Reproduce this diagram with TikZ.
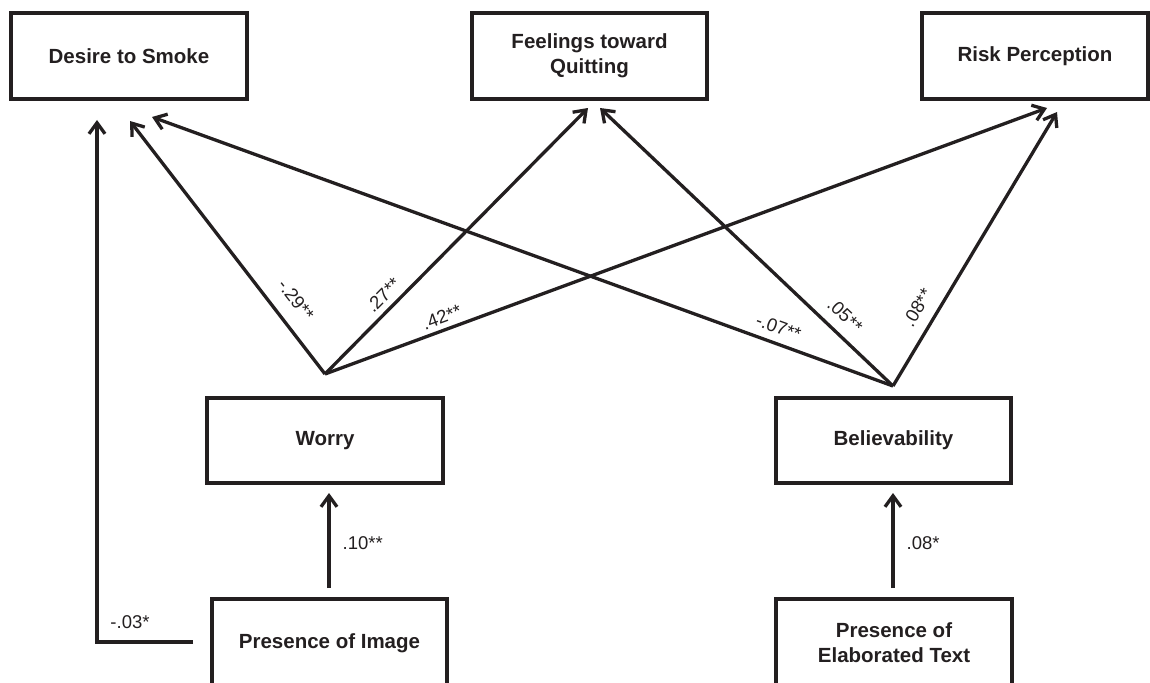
\documentclass[tikz,border=0pt]{standalone}
\usepackage{fontspec}
\setmainfont{Liberation Sans}
\usetikzlibrary{arrows.meta}
\definecolor{ink}{HTML}{231F20}
\begin{document}
\begin{tikzpicture}[x=1pt,y=-1pt,
  box/.style={draw=ink, text=ink, line width=3.3pt, align=center, inner sep=0pt,
    font=\fontsize{20.5}{25}\selectfont\bfseries},
  conn/.style={draw=ink, line width=3.3pt, line join=miter,
    -{Straight Barb[length=11pt,width=16pt]}},
  lab/.style={text=ink, inner sep=0pt, font=\fontsize{18.5}{20}\selectfont}]
\useasboundingbox (0,0) rectangle (1150,682);
\clip (0,0) rectangle (1150,682);

% boxes
\node[box, minimum width=236pt, minimum height=86pt] (desire) at (129,56) {Desire to Smoke};
\node[box, minimum width=235pt, minimum height=86pt] (feel) at (589.5,56) {Feelings toward\\Quitting};
\node[box, minimum width=226pt, minimum height=86pt] (risk) at (1035,56) {Risk Perception};
\node[box, minimum width=236pt, minimum height=85pt] (worry) at (325,440.5) {Worry};
\node[box, minimum width=235pt, minimum height=85pt] (believ) at (893.5,440.5) {Believability};
\node[box, minimum width=235pt, minimum height=88pt] (pimg) at (329.5,643) {Presence of Image};
\node[box, minimum width=236pt, minimum height=88pt] (ptext) at (894,643) {Presence of\\Elaborated Text};

% connector end points
\coordinate (wA) at (325,374);
\coordinate (bA) at (893,386);
\coordinate (tWD) at (130,121);
\coordinate (tBD) at (152,117);
\coordinate (tWF) at (588,108);
\coordinate (tBF) at (600,108);
\coordinate (tWR) at (1047,108);
\coordinate (tBR) at (1057,112);
\coordinate (tPD) at (97,120);
\coordinate (corner) at (97,642);
\coordinate (sP) at (193,642);
\coordinate (sPW) at (329,588);
\coordinate (tPW) at (329,493);
\coordinate (sTB) at (893,588);
\coordinate (tTB) at (893,493);

% paths from worry
\draw[conn] (wA) -- node[lab, pos=0.239, sloped, above=14pt] {-.29**} (tWD);
\draw[conn] (wA) -- node[lab, pos=0.259, sloped, above=6pt] {.27**} (tWF);
\draw[conn] (wA) -- node[lab, pos=0.168, sloped, above=5pt] {.42**} (tWR);
% paths from believability
\draw[conn] (bA) -- node[lab, pos=0.162, sloped, above=8pt] {-.07**} (tBD);
\draw[conn] (bA) -- node[lab, pos=0.206, sloped, above=10pt] {.05**} (tBF);
\draw[conn] (bA) -- node[lab, pos=0.25, sloped, above=11pt] {.08**} (tBR);
% vertical arrows
\draw[conn] (sPW) -- node[lab, pos=0.47, right=12pt] {.10**} (tPW);
\draw[conn] (sTB) -- node[lab, pos=0.47, right=12pt] {.08*} (tTB);
% elbow
\draw[conn] (sP) -- node[lab, pos=0.656, above=12pt] {-.03*} (corner) -- (tPD);
\end{tikzpicture}
\end{document}
